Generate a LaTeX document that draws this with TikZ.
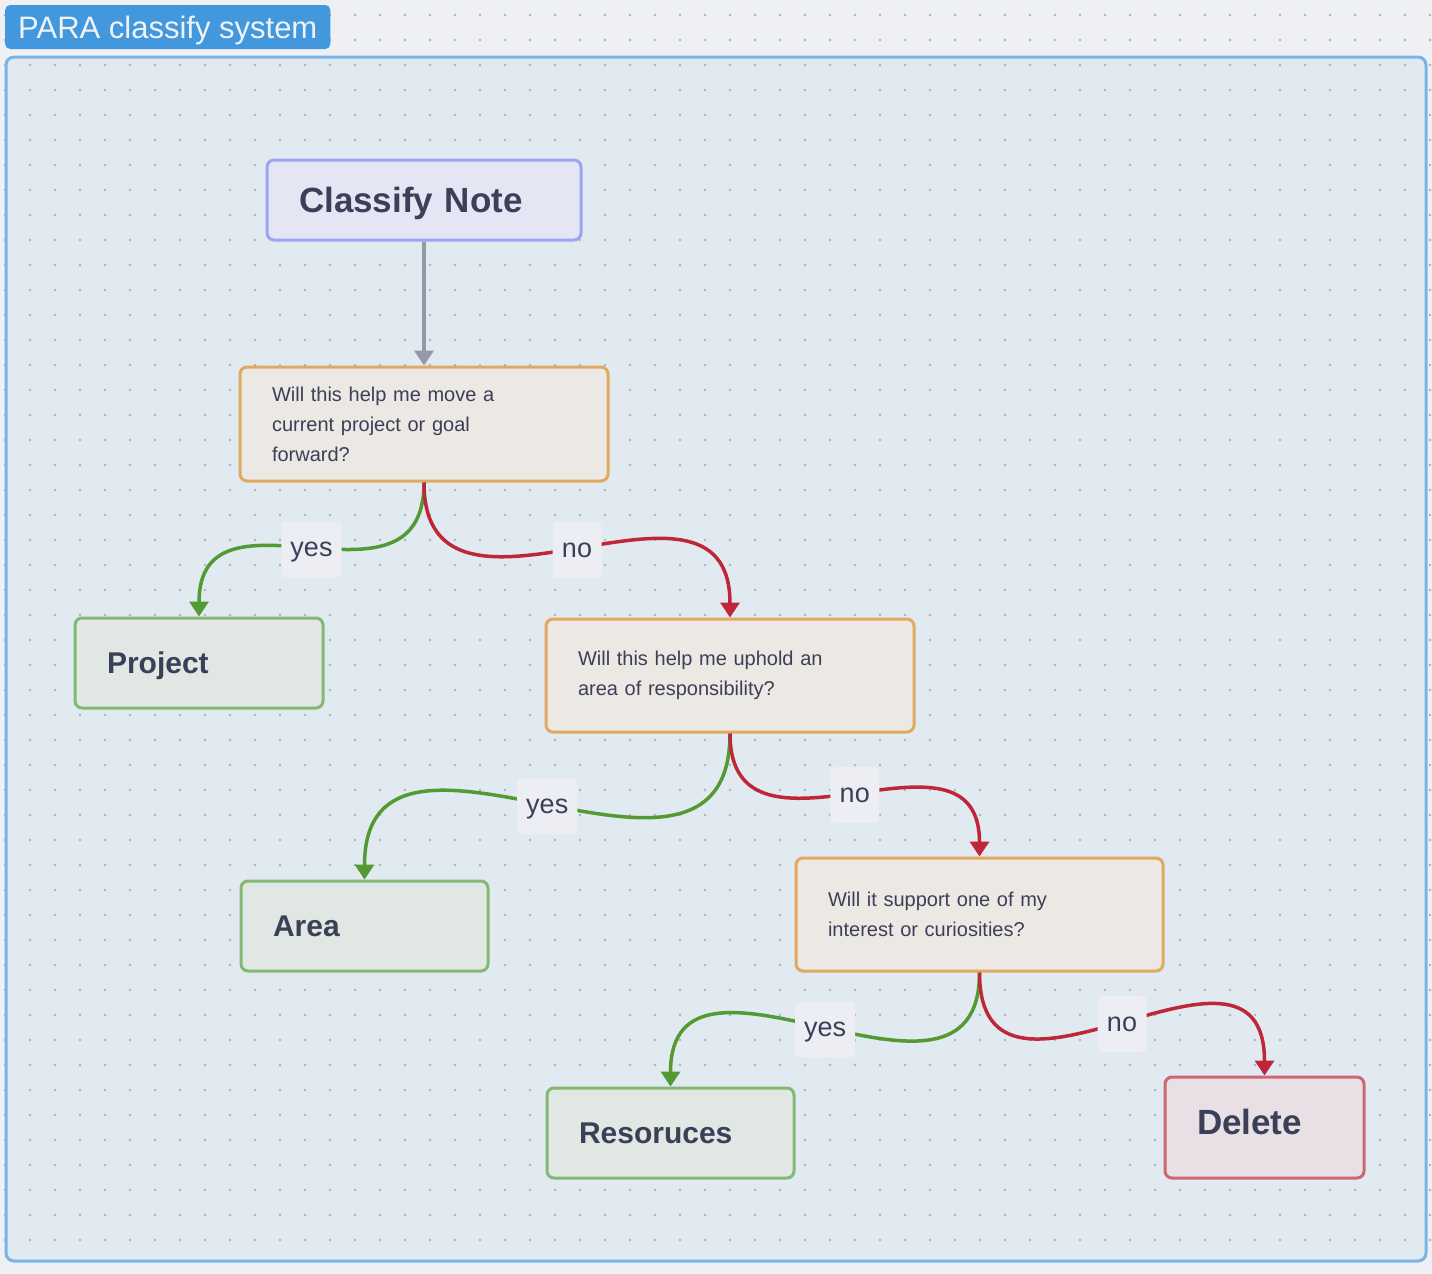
\documentclass[tikz,border=0pt]{standalone}
\usepackage{fontspec}
\setmainfont{Liberation Sans}
\usetikzlibrary{arrows.meta}

\definecolor{pagebg}{HTML}{EEF0F4}
\definecolor{framefill}{HTML}{E1E9F1}
\definecolor{frameline}{HTML}{7AB4E6}
\definecolor{dotcol}{HTML}{A9B2BF}
\definecolor{titlefill}{HTML}{4397DC}
\definecolor{titletext}{HTML}{EEF3F8}
\definecolor{ink}{HTML}{3C3F58}
\definecolor{noteline}{HTML}{9BA6F2}
\definecolor{notefill}{HTML}{E4E6F3}
\definecolor{askline}{HTML}{E1A862}
\definecolor{askfill}{HTML}{ECE8E4}
\definecolor{keepline}{HTML}{85B873}
\definecolor{keepfill}{HTML}{E1E8E4}
\definecolor{dropline}{HTML}{CD6873}
\definecolor{dropfill}{HTML}{E9E0E5}
\definecolor{yesgreen}{HTML}{529A31}
\definecolor{nored}{HTML}{BF2638}
\definecolor{flowgray}{HTML}{9499A9}
\definecolor{lblfill}{HTML}{ECEEF3}

\begin{document}
\begin{tikzpicture}[x=1pt,y=1pt,
  card/.style={rectangle, rounded corners=7, line width=3, inner xsep=32, inner ysep=0, align=left, text=ink},
  startcard/.style={card, draw=noteline, fill=notefill, text depth=0pt, font=\fontsize{35}{42}\selectfont\bfseries},
  askcard/.style={card, draw=askline, fill=askfill, font=\fontsize{20}{30}\selectfont},
  keepcard/.style={card, draw=keepline, fill=keepfill, text depth=0pt, font=\fontsize{30}{36}\selectfont\bfseries},
  dropcard/.style={card, draw=dropline, fill=dropfill, text depth=12pt, font=\fontsize{35}{42}\selectfont\bfseries},
  lbl/.style={rectangle, rounded corners=4, fill=lblfill, inner xsep=9, inner ysep=0, text depth=0pt, minimum width=49, minimum height=56, text=ink, font=\fontsize{27}{30}\selectfont},
  flowline/.style={draw=flowgray, line width=4, -{Triangle[width=19,length=15]}},
  yesline/.style={draw=yesgreen, line width=3.5, -{Triangle[width=19,length=15]}},
  noline/.style={draw=nored, line width=3.5, -{Triangle[width=19,length=15]}}]

	% canvas and group frame
	\fill[pagebg] (0,0) rectangle (1432,-1274);
	\useasboundingbox (0,0) rectangle (1432,-1274);
	\fill[framefill, rounded corners=8] (6,-57) rectangle (1426,-1261);
	\foreach \x in {5,30,...,1430}
		\foreach \y in {15,40,...,1240}
			\fill[dotcol] (\x,-\y) circle (1.3);
	\draw[frameline, line width=3, rounded corners=8] (6,-57) rectangle (1426,-1261);
	\node[rectangle, rounded corners=5, fill=titlefill, text=titletext, inner xsep=13, inner ysep=0, text depth=0pt, minimum height=44, anchor=west, font=\fontsize{31}{34}\selectfont] (title) at (5,-27) {PARA classify system};

	% cards
	\node[startcard, text width=250, minimum height=80] (note) at (424,-200) {Classify Note};
	\node[askcard, text width=304, minimum height=114] (q1) at (424,-424) {Will this help me move a\\current project or goal\\forward?};
	\node[keepcard, text width=184, minimum height=90] (project) at (199,-663) {Project};
	\node[askcard, text width=304, minimum height=113] (q2) at (730,-675.5) {Will this help me uphold an\\area of responsibility?};
	\node[keepcard, text width=183, minimum height=90] (area) at (364.5,-926) {Area};
	\node[askcard, text width=303, minimum height=113] (q3) at (979.5,-914.5) {Will it support one of my\\interest or curiosities?};
	\node[keepcard, text width=183, minimum height=90] (resources) at (670.5,-1133) {Resoruces};
	\node[dropcard, text width=135, minimum height=101] (delete) at (1264.5,-1127.5) {Delete};

	% connectors
	\draw[flowline] (note) -- (q1);
	\draw[yesline] (q1.south) .. controls +(0,-144) and +(0,144) .. (project.north) node[lbl, pos=.5] (yes1) {yes};
	\draw[noline] (q1.south) .. controls +(0,-179) and +(0,179) .. (q2.north) node[lbl, pos=.5] (no1) {no};
	\draw[yesline] (q2.south) .. controls +(0,-210) and +(0,210) .. (area.north) node[lbl, pos=.5] (yes2) {yes};
	\draw[noline] (q2.south) .. controls +(0,-150) and +(0,150) .. (q3.north) node[lbl, pos=.5] (no2) {no};
	\draw[yesline] (q3.south) .. controls +(0,-176) and +(0,176) .. (resources.north) node[lbl, pos=.5] (yes3) {yes};
	\draw[noline] (q3.south) .. controls +(0,-177) and +(0,177) .. (delete.north) node[lbl, pos=.5] (no3) {no};
\end{tikzpicture}
\end{document}
